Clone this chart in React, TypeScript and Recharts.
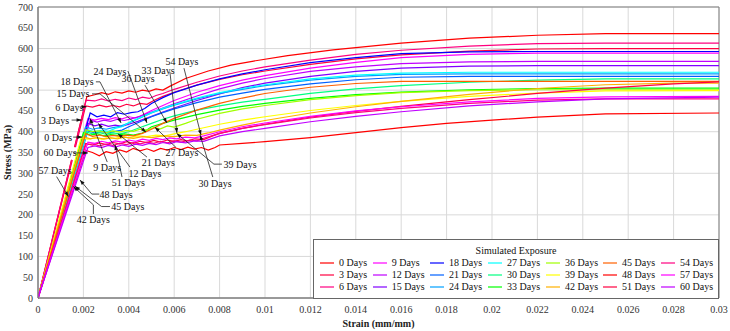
import React from 'react'
import { LineChart, Line, XAxis, YAxis, CartesianGrid, ReferenceLine, ReferenceDot, ReferenceArea } from 'recharts'

type Pt = [number, number | null]

const FONT = '"Liberation Serif", "Times New Roman", Times, serif'

const DAYS = [0, 3, 6, 9, 12, 15, 18, 21, 24, 27, 30, 33, 36, 39, 42, 45, 48, 51, 54, 57, 60]
const COLORS = [
  '#ff0000', '#ff0040', '#ff0080', '#ff00ff', '#c000ff', '#8000ff', '#0000ff',
  '#0060ff', '#00a0ff', '#00ffff', '#00ff80', '#00ff00', '#a0ff00', '#ffff00',
  '#ffb000', '#ff6000', '#ff0000', '#ff0040', '#ff0080', '#ff00ff', '#c000ff',
]

const X_TICKS = [0, 0.002, 0.004, 0.006, 0.008, 0.01, 0.012, 0.014, 0.016, 0.018, 0.02, 0.022, 0.024, 0.026, 0.028, 0.03]
const Y_TICKS = [0, 50, 100, 150, 200, 250, 300, 350, 400, 450, 500, 550, 600, 650, 700]

// strain (mm/mm), stress (MPa)
const d0: Pt[] = [[0, 0], [0.00148, 332], [0.00155, null], [0.00161, 363], [0.00215, 484], [0.0025, 489], [0.0028, 494], [0.0031, 490], [0.0034, 496], [0.0037, 493], [0.004, 498], [0.0043, 495], [0.0046, 500], [0.0049, 497], [0.0052, 503], [0.0055, 500], [0.0058, 509], [0.0065, 528], [0.0075, 546], [0.0085, 560], [0.0095, 570], [0.011, 583], [0.013, 597], [0.016, 613], [0.019, 625], [0.022, 632], [0.025, 636], [0.03, 636]]
const d3: Pt[] = [[0, 0], [0.00151, 332], [0.00158, null], [0.00165, 363], [0.0021, 462], [0.0024, 459], [0.0027, 464], [0.003, 460], [0.0033, 463], [0.0036, 460], [0.0039, 466], [0.0042, 462], [0.0045, 468], [0.0048, 466], [0.0051, 475], [0.0055, 485], [0.006, 495], [0.007, 512], [0.008, 526], [0.009, 537], [0.01, 546], [0.012, 562], [0.014, 575], [0.016, 585], [0.019, 594], [0.022, 599], [0.025, 600], [0.03, 600]]
const d6: Pt[] = [[0, 0], [0.00148, 332], [0.00155, null], [0.00162, 363], [0.00212, 476], [0.0025, 474], [0.0028, 479], [0.0031, 474], [0.0034, 478], [0.0037, 475], [0.004, 481], [0.0043, 477], [0.0046, 483], [0.0049, 480], [0.0052, 487], [0.0055, 492], [0.006, 502], [0.007, 519], [0.008, 534], [0.009, 546], [0.01, 556], [0.012, 572], [0.014, 586], [0.016, 596], [0.019, 606], [0.022, 612], [0.025, 613], [0.03, 613]]
const d9: Pt[] = [[0, 0], [0.0022, 432], [0.0025, 428], [0.0028, 432], [0.0031, 429], [0.0034, 434], [0.0037, 431], [0.004, 436], [0.0043, 433], [0.0046, 440], [0.005, 451], [0.0055, 463], [0.006, 475], [0.007, 495], [0.008, 511], [0.009, 524], [0.01, 535], [0.012, 553], [0.014, 567], [0.016, 578], [0.019, 586], [0.022, 589], [0.03, 589]]
const d12: Pt[] = [[0, 0], [0.0023, 428], [0.0026, 423], [0.0029, 428], [0.0032, 425], [0.0035, 430], [0.0038, 427], [0.0041, 431], [0.0045, 437], [0.005, 447], [0.0055, 457], [0.006, 467], [0.007, 486], [0.008, 503], [0.009, 517], [0.01, 528], [0.012, 545], [0.014, 556], [0.016, 564], [0.019, 568], [0.022, 569], [0.03, 569]]
const d15: Pt[] = [[0, 0], [0.0022, 420], [0.0025, 414], [0.0028, 418], [0.0031, 413], [0.0034, 416], [0.0037, 413], [0.004, 418], [0.0044, 425], [0.005, 437], [0.0055, 447], [0.006, 457], [0.007, 475], [0.008, 491], [0.009, 506], [0.01, 517], [0.012, 533], [0.014, 545], [0.016, 553], [0.019, 558], [0.022, 559], [0.03, 559]]
const d18: Pt[] = [[0, 0], [0.0023, 445], [0.0026, 436], [0.0029, 440], [0.0032, 436], [0.0035, 446], [0.0038, 442], [0.0041, 446], [0.0044, 448], [0.0047, 456], [0.005, 468], [0.0055, 482], [0.006, 494], [0.007, 512], [0.008, 527], [0.009, 539], [0.01, 549], [0.012, 566], [0.014, 578], [0.016, 588], [0.019, 592], [0.022, 593], [0.03, 593]]
const d21: Pt[] = [[0, 0], [0.0022, 402], [0.0025, 397], [0.0028, 400], [0.0031, 397], [0.0034, 401], [0.0037, 404], [0.004, 412], [0.0045, 424], [0.005, 436], [0.0055, 446], [0.006, 455], [0.007, 470], [0.008, 483], [0.009, 493], [0.01, 502], [0.012, 515], [0.014, 525], [0.016, 531], [0.019, 533], [0.03, 533]]
const d24: Pt[] = [[0, 0], [0.0021, 412], [0.0024, 406], [0.0027, 409], [0.003, 406], [0.0033, 410], [0.0036, 413], [0.004, 421], [0.0045, 433], [0.005, 445], [0.0055, 455], [0.006, 464], [0.007, 479], [0.008, 492], [0.009, 502], [0.01, 511], [0.012, 524], [0.014, 533], [0.016, 538], [0.019, 539], [0.03, 539]]
const d27: Pt[] = [[0, 0], [0.0022, 405], [0.0025, 400], [0.0028, 403], [0.0031, 401], [0.0034, 408], [0.0037, 412], [0.004, 422], [0.0045, 434], [0.005, 446], [0.0055, 456], [0.006, 465], [0.007, 481], [0.008, 494], [0.009, 504], [0.01, 513], [0.012, 527], [0.014, 536], [0.016, 541], [0.019, 543], [0.03, 543]]
const d30: Pt[] = [[0, 0], [0.0021, 400], [0.0024, 395], [0.0027, 398], [0.003, 394], [0.0033, 397], [0.0036, 395], [0.004, 400], [0.0045, 410], [0.005, 420], [0.0055, 430], [0.006, 438], [0.007, 452], [0.008, 462], [0.009, 471], [0.01, 478], [0.012, 492], [0.014, 503], [0.016, 511], [0.019, 519], [0.022, 524], [0.025, 527], [0.03, 527]]
const d33: Pt[] = [[0, 0], [0.002, 398], [0.0023, 392], [0.0026, 395], [0.0029, 390], [0.0032, 393], [0.0035, 391], [0.0038, 395], [0.0042, 392], [0.0046, 397], [0.005, 412], [0.0055, 420], [0.006, 428], [0.007, 441], [0.008, 452], [0.009, 461], [0.01, 468], [0.012, 480], [0.014, 489], [0.016, 495], [0.019, 501], [0.022, 504], [0.025, 505], [0.03, 505]]
const d36: Pt[] = [[0, 0], [0.0021, 405], [0.0024, 400], [0.0027, 402], [0.003, 398], [0.0033, 402], [0.0036, 399], [0.0039, 403], [0.0042, 401], [0.0045, 406], [0.0048, 404], [0.0051, 410], [0.0054, 407], [0.0057, 414], [0.006, 411], [0.0065, 420], [0.007, 430], [0.008, 444], [0.009, 455], [0.01, 463], [0.012, 477], [0.014, 487], [0.016, 494], [0.019, 499], [0.022, 501], [0.03, 501]]
const d39: Pt[] = [[0, 0], [0.0019, 385], [0.0022, 382], [0.0025, 385], [0.0028, 382], [0.0031, 386], [0.0034, 384], [0.0037, 388], [0.004, 385], [0.0044, 390], [0.0048, 388], [0.0052, 392], [0.0056, 390], [0.006, 395], [0.0065, 400], [0.007, 406], [0.008, 418], [0.009, 428], [0.01, 436], [0.012, 451], [0.014, 463], [0.016, 473], [0.019, 485], [0.022, 493], [0.025, 498], [0.03, 499]]
const d42: Pt[] = [[0, 0], [0.002, 388], [0.0023, 383], [0.0026, 386], [0.0029, 382], [0.0032, 385], [0.0035, 383], [0.0038, 387], [0.0042, 384], [0.0046, 388], [0.005, 386], [0.0055, 390], [0.006, 388], [0.0065, 392], [0.007, 391], [0.0075, 397], [0.008, 404], [0.009, 416], [0.01, 427], [0.012, 445], [0.014, 460], [0.016, 473], [0.019, 490], [0.022, 504], [0.025, 513], [0.028, 517], [0.03, 517]]
const d45: Pt[] = [[0, 0], [0.0021, 395], [0.0024, 389], [0.0027, 392], [0.003, 388], [0.0033, 391], [0.0036, 389], [0.0039, 392], [0.0042, 390], [0.0046, 396], [0.005, 406], [0.0055, 420], [0.006, 432], [0.007, 452], [0.008, 468], [0.009, 481], [0.01, 492], [0.012, 507], [0.014, 516], [0.016, 521], [0.03, 521]]
const d48: Pt[] = [[0, 0], [0.0021, 355], [0.0024, 350], [0.0027, 342], [0.003, 352], [0.0033, 348], [0.0036, 356], [0.0039, 351], [0.0042, 360], [0.0045, 354], [0.0048, 359], [0.0051, 353], [0.0054, 360], [0.0057, 356], [0.006, 362], [0.0063, 357], [0.0066, 363], [0.0069, 358], [0.0072, 362], [0.0075, 356], [0.0078, 362], [0.008, 368], [0.009, 372], [0.01, 376], [0.012, 386], [0.014, 398], [0.016, 410], [0.018, 420], [0.02, 428], [0.022, 435], [0.025, 443], [0.03, 445]]
const d51: Pt[] = [[0, 0], [0.0021, 372], [0.0024, 368], [0.0027, 373], [0.003, 369], [0.0033, 374], [0.0036, 371], [0.0039, 376], [0.0042, 372], [0.0045, 377], [0.0048, 374], [0.0051, 379], [0.0054, 375], [0.0057, 380], [0.006, 377], [0.0063, 381], [0.0066, 378], [0.0069, 383], [0.0073, 381], [0.0077, 390], [0.008, 396], [0.009, 408], [0.01, 418], [0.012, 435], [0.014, 449], [0.016, 461], [0.019, 477], [0.022, 492], [0.025, 505], [0.028, 515], [0.03, 520]]
const d54: Pt[] = [[0, 0], [0.0021, 368], [0.0024, 371], [0.0027, 366], [0.003, 370], [0.0033, 367], [0.0036, 372], [0.0039, 369], [0.0042, 374], [0.0045, 371], [0.0048, 375], [0.0051, 372], [0.0054, 377], [0.0057, 373], [0.006, 378], [0.0063, 375], [0.0067, 380], [0.007, 378], [0.0074, 386], [0.008, 396], [0.009, 408], [0.01, 417], [0.012, 433], [0.014, 446], [0.016, 456], [0.019, 468], [0.022, 476], [0.025, 479], [0.03, 479]]
const d57: Pt[] = [[0, 0], [0.0022, 375], [0.0025, 372], [0.0028, 377], [0.0031, 373], [0.0034, 378], [0.0037, 375], [0.004, 380], [0.0043, 377], [0.0046, 382], [0.0049, 379], [0.0052, 384], [0.0055, 381], [0.0058, 385], [0.0061, 383], [0.0065, 387], [0.0069, 385], [0.0073, 390], [0.008, 400], [0.009, 412], [0.01, 421], [0.012, 437], [0.014, 450], [0.016, 460], [0.019, 472], [0.022, 480], [0.025, 484], [0.03, 485]]
const d60: Pt[] = [[0, 0], [0.0022, 362], [0.0025, 366], [0.0028, 362], [0.0031, 367], [0.0034, 363], [0.0037, 368], [0.004, 365], [0.0043, 370], [0.0046, 367], [0.0049, 372], [0.0052, 369], [0.0055, 374], [0.0058, 371], [0.0061, 376], [0.0065, 373], [0.0069, 378], [0.0073, 377], [0.008, 390], [0.009, 400], [0.01, 408], [0.012, 424], [0.014, 437], [0.016, 448], [0.019, 462], [0.022, 472], [0.025, 479], [0.03, 483]]

const SERIES = [d0, d3, d6, d9, d12, d15, d18, d21, d24, d27, d30, d33, d36, d39, d42, d45, d48, d51, d54, d57, d60]

// call-out labels: text centre and leader polyline (data coords), arrow at last point
const NOTE_TEXT = ['54 Days', '33 Days', '36 Days', '24 Days', '18 Days', '15 Days', '6 Days', '3 Days', '0 Days', '60 Days', '57 Days', '48 Days', '45 Days', '42 Days', '9 Days', '12 Days', '51 Days', '21 Days', '27 Days', '39 Days', '30 Days']
const NOTE_AT: [number, number][] = [
  [0.00634, 570], [0.00529, 548], [0.00441, 527], [0.00317, 546], [0.00172, 520], [0.00154, 491],
  [0.00138, 459], [0.00075, 428], [0.00089, 387], [0.00097, 349], [0.00075, 307], [0.00344, 250],
  [0.00396, 219], [0.00244, 188], [0.00305, 313], [0.00471, 300], [0.00398, 277], [0.0053, 325],
  [0.00634, 349], [0.0089, 322], [0.0078, 276],
]
const NOTE_PATH: [number, number][][] = [
  [[0.00643, 553], [0.00718, 392]],
  [[0.00581, 544], [0.00612, 397]],
  [[0.00471, 512], [0.00568, 421]],
  [[0.00396, 546], [0.0048, 421]],
  [[0.00255, 520], [0.00273, 520], [0.00366, 421]],
  [[0.00238, 491], [0.00273, 491], [0.00476, 399]],
  [[0.002, 460], [0.00214, 460]],
  [[0.00148, 428], [0.00192, 428]],
  [[0.00155, 387], [0.00195, 387]],
  [[0.00156, 349], [0.0022, 349]],
  [[0.00082, 292], [0.00134, 244]],
  [[0.0027, 250], [0.00237, 250], [0.00185, 284]],
  [[0.00317, 220], [0.0028, 220], [0.00163, 269]],
  [[0.00244, 202], [0.00244, 224], [0.00156, 268]],
  [[0.00305, 327], [0.00229, 432]],
  [[0.00405, 315], [0.00266, 420]],
  [[0.0037, 291], [0.0034, 368]],
  [[0.0048, 339], [0.00352, 395]],
  [[0.00608, 362], [0.00515, 411]],
  [[0.0081, 322], [0.00775, 322], [0.00611, 396]],
  [[0.0077, 291], [0.00714, 392]],
]

const LEGEND_COLS = [52.7, 57.3, 58, 58, 57, 58, 58]

const arrowLine = (p: any) => {
  const { x1, y1, x2, y2 } = p
  const a = Math.atan2(y2 - y1, x2 - x1)
  const L = 5
  const W = 1.8
  const bx = x2 - L * Math.cos(a)
  const by = y2 - L * Math.sin(a)
  const pts = `${x2},${y2} ${bx + W * Math.sin(a)},${by - W * Math.cos(a)} ${bx - W * Math.sin(a)},${by + W * Math.cos(a)}`
  return (
    <g>
      <line x1={x1} y1={y1} x2={x2} y2={y2} stroke="#222" strokeWidth={0.8} />
      <polygon points={pts} fill="#111" />
    </g>
  )
}

const plainLine = (p: any) => (
  <line x1={p.x1} y1={p.y1} x2={p.x2} y2={p.y2} stroke="#222" strokeWidth={0.8} />
)

export default function App() {
  return (
    <div style={{ position: 'absolute', left: 0, top: 0, width: 730, height: 331, background: '#fff' }}>
      <LineChart width={730} height={331} margin={{ top: 7, right: 11, bottom: 0, left: 0 }}>
        <CartesianGrid stroke="#d9d9d9" strokeWidth={1} />
        <XAxis
          dataKey="e"
          type="number"
          domain={[0, 0.03]}
          ticks={X_TICKS}
          height={33}
          tickSize={0}
          tickMargin={8}
          axisLine={{ stroke: '#7f7f7f' }}
          tick={{ fill: '#333', fontSize: 10, fontFamily: FONT }}
          allowDataOverflow
          label={{
            content: (p: any) => (
              <text
                x={p.viewBox.x + p.viewBox.width / 2}
                y={p.viewBox.y + 25}
                textAnchor="middle"
                dominantBaseline="central"
                fontFamily={FONT}
                fontSize={10}
                fontWeight="bold"
                fill="#222"
              >
                Strain (mm/mm)
              </text>
            ),
          }}
        />
        <YAxis
          type="number"
          domain={[0, 700]}
          ticks={Y_TICKS}
          width={38}
          tickSize={0}
          tickMargin={5}
          axisLine={{ stroke: '#7f7f7f' }}
          tick={{ fill: '#333', fontSize: 10, fontFamily: FONT }}
          label={{
            content: (p: any) => {
              const x = p.viewBox.x + 7
              const y = p.viewBox.y + p.viewBox.height / 2
              return (
                <text
                  x={x}
                  y={y}
                  transform={`rotate(-90 ${x} ${y})`}
                  textAnchor="middle"
                  dominantBaseline="central"
                  fontFamily={FONT}
                  fontSize={10}
                  fontWeight="bold"
                  fill="#222"
                >
                  Stress (MPa)
                </text>
              )
            },
          }}
        />
        <ReferenceArea x1={0} x2={0.03} y1={0} y2={700} fill="none" stroke="#7f7f7f" strokeWidth={1} />

        {SERIES.map((s, i) => (
          <Line
            key={DAYS[i]}
            data={s.map(([e, v]) => ({ e, s: v }))}
            dataKey="s"
            name={`${DAYS[i]} Days`}
            stroke={COLORS[i]}
            strokeWidth={1.2}
            dot={false}
            activeDot={false}
            isAnimationActive={false}
            connectNulls={false}
          />
        ))}

        {NOTE_PATH.map((path, i) =>
          path.slice(1).map((pt, j) => (
            <ReferenceLine
              key={`l${i}-${j}`}
              segment={[{ x: path[j][0], y: path[j][1] }, { x: pt[0], y: pt[1] }]}
              ifOverflow="visible"
              shape={j === path.length - 2 ? arrowLine : plainLine}
            />
          ))
        )}
        {NOTE_TEXT.map((t, i) => (
          <ReferenceDot
            key={`t${i}`}
            x={NOTE_AT[i][0]}
            y={NOTE_AT[i][1]}
            r={1}
            ifOverflow="visible"
            shape={(p: any) => (
              <text
                x={p.cx}
                y={p.cy}
                textAnchor="middle"
                dominantBaseline="central"
                fontFamily={FONT}
                fontSize={10}
                fill="#111"
              >
                {t}
              </text>
            )}
          />
        ))}
      </LineChart>

      {/* Legend */}
      <div style={{
        position: 'absolute',
        left: 313,
        top: 239,
        width: 406,
        height: 60,
        boxSizing: 'border-box',
        border: '1px solid #666',
        background: '#fff',
        fontFamily: FONT,
        fontSize: 10,
        color: '#111',
      }}>
        <div style={{ textAlign: 'center', marginTop: 5, lineHeight: '12px', height: 12 }}>Simulated Exposure</div>
        <div style={{
          display: 'grid',
          gridTemplateColumns: LEGEND_COLS.map(w => `${w}px`).join(' '),
          gridTemplateRows: 'repeat(3, 12px)',
          gridAutoFlow: 'column',
          paddingLeft: 6,
        }}>
          {DAYS.map((d, i) => (
            <div key={d} style={{ display: 'flex', alignItems: 'center', lineHeight: '12px', whiteSpace: 'nowrap' }}>
              <span style={{ display: 'inline-block', width: 14, height: 2, background: COLORS[i], opacity: 0.6, marginRight: 5, flexShrink: 0 }} />
              {d} Days
            </div>
          ))}
        </div>
      </div>
    </div>
  )
}
